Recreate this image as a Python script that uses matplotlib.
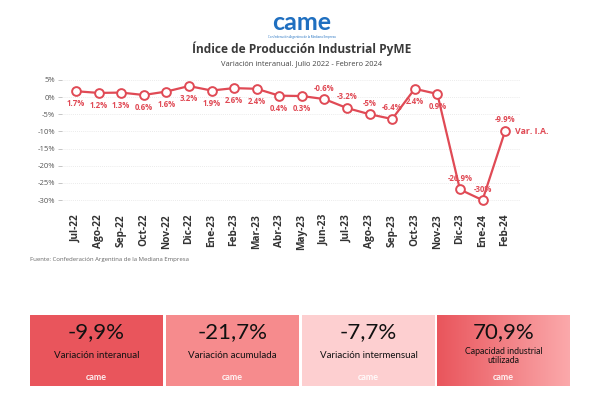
import matplotlib.pyplot as plt
import numpy as np
from matplotlib.colors import LinearSegmentedColormap

meses = ['Jul-22', 'Ago-22', 'Sep-22', 'Oct-22', 'Nov-22', 'Dic-22', 'Ene-23', 'Feb-23',
         'Mar-23', 'Abr-23', 'May-23', 'Jun-23', 'Jul-23', 'Ago-23', 'Sep-23', 'Oct-23',
         'Nov-23', 'Dic-23', 'Ene-24', 'Feb-24']
variacion = [1.7, 1.2, 1.3, 0.6, 1.6, 3.2, 1.9, 2.6, 2.4, 0.4, 0.3, -0.6, -3.2, -5, -6.4,
             2.4, 0.9, -26.9, -30, -9.9]
etiquetas = ['1.7%', '1.2%', '1.3%', '0.6%', '1.6%', '3.2%', '1.9%', '2.6%', '2.4%', '0.4%',
             '0.3%', '-0.6%', '-3.2%', '-5%', '-6.4%', '2.4%', '0.9%', '-26.9%', '-30%', '-9.9%']
yticks = [5, 0, -5, -10, -15, -20, -25, -30]

card_values = ['-9,9%', '-21,7%', '-7,7%', '70,9%']
card_labels = ['Variación interanual', 'Variación acumulada', 'Variación intermensual',
               'Capacidad industrial\nutilizada']
card_colors = ['#E9555C', '#F68B8D', '#FDCFD0', None]

rojo = '#E04A55'
plt.rcParams['font.family'] = ['Open Sans', 'DejaVu Sans']

fig = plt.figure(figsize=(6.04, 4.0), dpi=100)

# logo y titulos
fig.text(0.5, 0.945, 'came', ha='center', va='center', fontsize=18, fontweight='bold',
         color='#1F6FC0', family='Lato')
fig.text(0.5, 0.908, 'Confederación Argentina de la Mediana Empresa', ha='center',
         va='center', fontsize=2.2, color='#1F6FC0')
fig.text(0.5, 0.878, 'Índice de Producción Industrial PyME', ha='center', va='center',
         fontsize=8.6, fontweight='bold', color='#3A3A3A')
fig.text(0.5, 0.84, 'Variación interanual. Julio 2022 - Febrero 2024', ha='center',
         va='center', fontsize=5.4, color='#444444')

ax = fig.add_axes([62 / 604, 1 - 207 / 400, 458 / 604, 134 / 400])
x = np.arange(len(meses))
ax.plot(x, variacion, color=rojo, lw=1.6, marker='o', ms=6.3, mfc='white', mec=rojo,
        mew=1.4, zorder=3)

# posicion de cada etiqueta: debajo (-) o encima (+)
arriba = [11, 12, 13, 14, 17, 18, 19]
for i, (v, t) in enumerate(zip(variacion, etiquetas)):
    dy = 8 if i in arriba else -9
    ax.annotate(t, (i, v), xytext=(0, dy), textcoords='offset points', ha='center',
                va='center', fontsize=5.6, fontweight='bold', color=rojo)
ax.annotate('Var. I.A.', (19, -9.9), xytext=(7, 0), textcoords='offset points',
            ha='left', va='center', fontsize=6.3, fontweight='bold', color=rojo)

ax.set_xlim(-0.62, 19.66)
ax.set_ylim(-32, 7)
ax.set_yticks(yticks)
ax.set_yticklabels([f'{t}%' for t in yticks], fontsize=5.5, color='#555555')
ax.set_xticks(x)
ax.set_xticklabels(meses, rotation=90, fontsize=7.3, fontweight='bold', color='#333333')
ax.tick_params(axis='y', length=3, color='#BBBBBB', width=0.6, pad=2)
ax.tick_params(axis='x', length=0, pad=5)
for s in ax.spines.values():
    s.set_visible(False)
ax.grid(axis='y', color='#E4E4E4', lw=0.6, ls=(0, (1, 1.5)))
ax.set_axisbelow(True)

fig.text(30 / 604, 1 - 260 / 400, 'Fuente: Confederación Argentina de la Mediana Empresa',
         fontsize=4.3, color='#666666', va='center')

# tarjetas
lefts = [30, 166, 302, 437]
width = 133
grad = LinearSegmentedColormap.from_list('g', ['#E9555C', '#FBA9AB'])
for i in range(4):
    cax = fig.add_axes([lefts[i] / 604, 1 - 386 / 400, width / 604, 71 / 400])
    cax.set_xlim(0, 1)
    cax.set_ylim(0, 1)
    cax.axis('off')
    if card_colors[i] is None:
        cax.imshow(np.linspace(0, 1, 256).reshape(1, -1), cmap=grad, aspect='auto',
                   extent=(0, 1, 0, 1))
    else:
        cax.add_patch(plt.Rectangle((0, 0), 1, 1, color=card_colors[i]))
    cax.text(0.5, 0.76, card_values[i], ha='center', va='center', fontsize=16,
             color='#111111', family='Lato')
    if '\n' in card_labels[i]:
        cax.text(0.5, 0.42, card_labels[i], ha='center', va='center', fontsize=6.3,
                 color='#111111', family='Lato', linespacing=0.95)
    else:
        cax.text(0.5, 0.43, card_labels[i], ha='center', va='center', fontsize=7,
                 color='#111111', family='Lato')
    cax.text(0.5, 0.12, 'came', ha='center', va='center', fontsize=6.5,
             fontweight='bold', color='white', family='Lato', alpha=0.9)

fig.savefig('out.png', dpi=100, facecolor='white')
